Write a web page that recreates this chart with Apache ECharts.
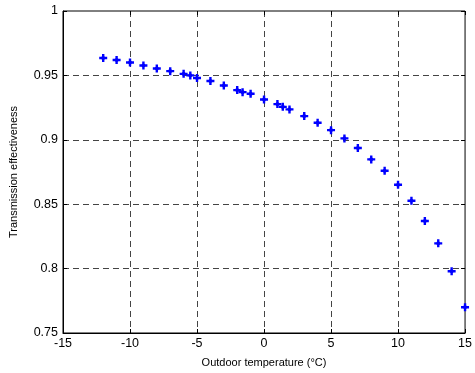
<!DOCTYPE html>
<html><head><meta charset="utf-8">
<script src="https://cdn.jsdelivr.net/npm/echarts@6/dist/echarts.min.js"></script>
<style>html,body{margin:0;padding:0;background:#fff}#c{width:475px;height:373px}</style>
</head><body><div id="c"></div>
<script>
const temps = [-12,-11,-10,-9,-8,-7,-6,-5.5,-5,-4,-3,-2,-1.6,-1,0,1,1.4,1.9,3,4,5,6,7,8,9,10,11,12,13,14,15];
const effect = [0.9635,0.962,0.960,0.9577,0.9554,0.9533,0.9512,0.950,0.948,0.9456,0.9422,0.9386,0.937,0.9357,0.9313,0.9277,0.9256,0.9236,0.9184,0.9132,0.9075,0.9011,0.8936,0.8848,0.876,0.8651,0.8527,0.837,0.8196,0.798,0.770];
const xTitle = 'Outdoor temperature (\u00B0C)';
const yTitle = 'Transmission effectiveness';

const chart = echarts.init(document.getElementById('c'), null, {renderer:'canvas'});
const font = 'Liberation Sans, Arial, sans-serif';
const dashed = {show:true, lineStyle:{color:'#444', type:[6,4], width:1}, showMinLine:false, showMaxLine:false};
chart.setOption({
  animation:false,
  grid:{left:60, right:5, top:11, bottom:40, show:true, borderColor:'#000', borderWidth:1, backgroundColor:'#fff'},
  xAxis:[{
    type:'value', min:-15, max:15, interval:5,
    name:xTitle, nameLocation:'middle', nameGap:24,
    nameTextStyle:{fontFamily:font, fontSize:11, color:'#000'},
    axisLine:{show:true, onZero:false, lineStyle:{color:'#000'}},
    axisTick:{show:true, inside:true, length:4, lineStyle:{color:'#000'}},
    axisLabel:{fontFamily:font, fontSize:12.5, color:'#000', margin:4},
    splitLine:dashed
  },{
    type:'value', min:-15, max:15, interval:5, position:'top',
    axisLine:{show:false, onZero:false}, axisLabel:{show:false}, splitLine:{show:false},
    axisTick:{show:true, inside:true, length:4, lineStyle:{color:'#000'}}
  }],
  yAxis:[{
    type:'value', min:0.75, max:1, interval:0.05,
    name:yTitle, nameLocation:'middle', nameGap:44, nameRotate:90,
    nameTextStyle:{fontFamily:font, fontSize:11, color:'#000'},
    axisLine:{show:true, onZero:false, lineStyle:{color:'#000'}},
    axisTick:{show:true, inside:true, length:4, lineStyle:{color:'#000'}},
    axisLabel:{fontFamily:font, fontSize:12.5, color:'#000', margin:5,
      formatter:v=>String(+v.toFixed(2))},
    splitLine:dashed
  },{
    type:'value', min:0.75, max:1, interval:0.05, position:'right',
    axisLine:{show:false, onZero:false}, axisLabel:{show:false}, splitLine:{show:false},
    axisTick:{show:true, inside:true, length:4, lineStyle:{color:'#000'}}
  }],
  series:[{
    type:'scatter',
    data:temps.map((t,i)=>[t,effect[i]]),
    symbol:'path://M2.8,0H5.2V2.2L5.8,2.8H8V5.2H5.8L5.2,5.8V8H2.8V5.8L2.2,5.2H0V2.8H2.2L2.8,2.2Z',
    symbolSize:8,
    itemStyle:{color:'#0000ff', opacity:1}
  }]
});
</script></body></html>
